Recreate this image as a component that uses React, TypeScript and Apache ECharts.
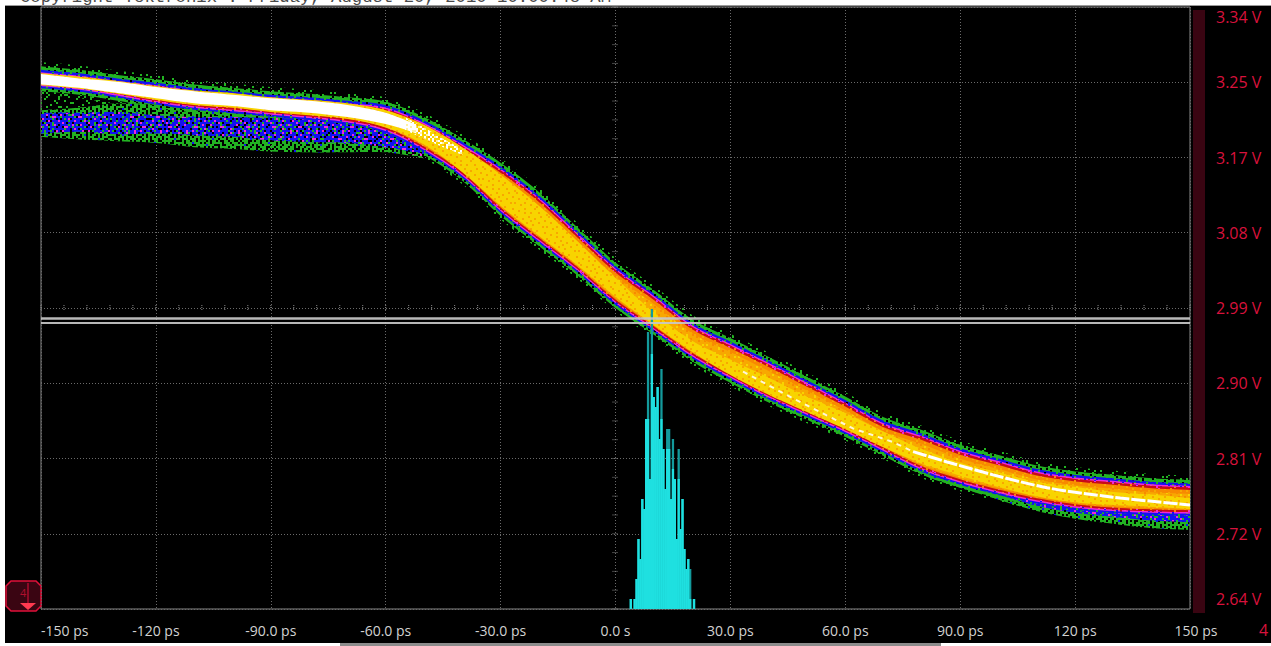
import React, { useEffect, useRef } from "react";
import * as echarts from "echarts";

// Time axis (ps) and voltage axis
const xTickValues = [-150, -120, -90, -60, -30, 0, 30, 60, 90, 120, 150];
const xTickLabels = ["-150 ps", "-120 ps", "-90.0 ps", "-60.0 ps", "-30.0 ps", "0.0 s", "30.0 ps", "60.0 ps", "90.0 ps", "120 ps", "150 ps"];
const yTickValues = [2.64, 2.7275, 2.815, 2.9025, 2.99, 3.0775, 3.165, 3.2525, 3.34];
const yTickLabels = ["2.64 V", "2.72 V", "2.81 V", "2.90 V", "2.99 V", "3.08 V", "3.17 V", "3.25 V", "3.34 V"];

// Waveform envelope, sampled every 10 ps from -150 to 150
const ps = [-150, -140, -130, -120, -110, -100, -90, -80, -70, -60, -50, -40, -30, -20, -10, 0, 10, 20, 30, 40, 50, 60, 70, 80, 90, 100, 110, 120, 130, 140, 150];
const mainTop = [3.271, 3.267, 3.261, 3.256, 3.25, 3.246, 3.242, 3.239, 3.235, 3.23, 3.212, 3.187, 3.159, 3.125, 3.084, 3.043, 3.011, 2.977, 2.955, 2.933, 2.91, 2.887, 2.863, 2.848, 2.831, 2.819, 2.807, 2.8, 2.796, 2.792, 2.79];
const mainBottom = [3.242, 3.238, 3.231, 3.223, 3.217, 3.213, 3.209, 3.205, 3.2, 3.19, 3.168, 3.138, 3.097, 3.062, 3.028, 2.99, 2.959, 2.928, 2.903, 2.88, 2.86, 2.84, 2.818, 2.796, 2.781, 2.769, 2.759, 2.752, 2.748, 2.746, 2.745];
const yellowTop = [3.263, 3.259, 3.254, 3.248, 3.243, 3.24, 3.235, 3.232, 3.228, 3.22, 3.203, 3.177, 3.145, 3.109, 3.068, 3.025, 2.985, 2.952, 2.93, 2.909, 2.887, 2.868, 2.846, 2.826, 2.81, 2.799, 2.788, 2.782, 2.776, 2.773, 2.769];
const yellowBottom = [3.249, 3.245, 3.239, 3.232, 3.226, 3.223, 3.218, 3.214, 3.21, 3.2, 3.18, 3.148, 3.109, 3.074, 3.04, 3.003, 2.97, 2.939, 2.912, 2.889, 2.869, 2.849, 2.828, 2.809, 2.795, 2.782, 2.771, 2.764, 2.761, 2.759, 2.756];

// Brightest trace on the left, then its speckled tail
const whitePs = [-150, -140, -130, -120, -110, -100, -90, -80, -70, -60, -52];
const whiteTop = [3.262, 3.257, 3.253, 3.247, 3.242, 3.238, 3.234, 3.231, 3.226, 3.217, 3.203];
const whiteBottom = [3.25, 3.246, 3.24, 3.234, 3.228, 3.225, 3.22, 3.217, 3.212, 3.204, 3.193];
const tailPs = [-55, -50, -45, -40];
const tailTop = [3.212, 3.2, 3.187, 3.175];
const tailBottom = [3.197, 3.187, 3.177, 3.168];
// Thin bright trace on the right
const traceDashPs = [33.3, 46.3, 62, 72.5, 77.7];
const traceDashV = [2.916, 2.885, 2.85, 2.834, 2.823];
const traceSolidPs = [77.7, 86.6, 98.6, 112.7, 129.9, 150];
const traceSolidV = [2.823, 2.811, 2.796, 2.781, 2.77, 2.761];

// Second, lower population on the left
const ghostPs = [-150, -140, -130, -120, -110, -100, -90, -80, -70, -60, -50];
const ghostSparseTop = [3.242, 3.238, 3.231, 3.223, 3.217, 3.213, 3.209, 3.205, 3.2, 3.19, 3.168];
const ghostGreenTop = [3.22, 3.223, 3.228, 3.226, 3.22, 3.217, 3.212, 3.209, 3.204, 3.193, 3.174];
const ghostGreenBottom = [3.189, 3.186, 3.184, 3.182, 3.177, 3.175, 3.172, 3.171, 3.171, 3.171, 3.164];
const ghostBlueTop = [3.217, 3.217, 3.218, 3.214, 3.212, 3.212, 3.211, 3.21, 3.209, 3.205, 3.178];
const ghostBlueBottom = [3.193, 3.195, 3.192, 3.193, 3.191, 3.189, 3.185, 3.183, 3.182, 3.177, 3.169];
const ghostMagentaPs = [-90, -80, -70, -60, -50];
const ghostMagentaTop = [3.209, 3.205, 3.2, 3.19, 3.168];
const ghostMagentaBottom = [3.199, 3.197, 3.192, 3.182, 3.162];

// Lower skirt on the right
const skirtPs = [80, 90, 100, 110, 120, 130, 140, 150];
const skirtTop = [2.809, 2.795, 2.782, 2.771, 2.764, 2.761, 2.759, 2.756];
const skirtGreenBottom = [2.796, 2.781, 2.767, 2.754, 2.745, 2.739, 2.734, 2.732];
const skirtBlueBottom = [2.799, 2.785, 2.773, 2.76, 2.752, 2.747, 2.743, 2.741];

// Crossing histogram
const histPs = [4, 4.5, 5, 5.5, 6, 6.5, 7, 7.5, 8, 8.5, 9, 9.5, 10, 10.5, 11, 11.5, 12, 12.5, 13, 13.5, 14, 14.5, 15, 15.5, 16, 16.5, 17, 17.5, 18, 18.5, 19, 19.5, 20, 20.5];
const histPeakHits = [10, 0, 10, 30, 70, 50, 110, 100, 190, 277, 130, 300, 212, 202, 222, 170, 240, 160, 120, 180, 180, 110, 170, 130, 70, 160, 80, 110, 60, 40, 50, 40, 0, 10];
const histBodyHits = [10, 0, 10, 30, 70, 50, 110, 100, 190, 190, 130, 255, 212, 202, 222, 170, 190, 160, 120, 160, 160, 110, 140, 130, 70, 130, 80, 110, 60, 40, 50, 10, 0, 10];

// Horizontal cursors
const cursorLevels = [2.9777, 2.9725];

// Persistence textures
const palette: Record<string, string> = {
  g: "#22b322", b: "#1212f0", m: "#f028d8", r: "#c80a18", o: "#f88a00", a: "#f8a800", y: "#f8d400", w: "#ffffff", k: "#000000", t: "#fff2a0",
};
const tileHalo = [
  "..g.......g...g.",
  "......g..g......",
  ".g.........g...g",
  ".g....g.........",
  ".......g.....g..",
  "g...g.......g...",
  "g.........g.....",
  "...g..g.......g.",
  "..g.........g...",
  "........g..g....",
  ".....g.g........",
  ".g............g.",
];
const tileGreenEdge = [
  "gg.ggg.gggg.gg.g",
  "ggggg.ggg.ggggg.",
  ".gg.ggggggg.gggg",
  "gggg.gg.ggggg.gg",
  "g.gggggg.gg.gggg",
  "ggg.gg.ggggggg.g",
  ".ggggggg.gg.gggg",
  "gg.ggg.gggggg.gg",
  "gggg.ggggg.ggggg",
  "g.ggggg.ggg.g.gg",
  "ggg.g.gggggggg.g",
  ".ggggggg.gg.gggg",
];
const tileSparse = [
  "..g....g.....g..",
  "......g......g..",
  "g..........g....",
  "...gg.......g...",
  ".........g......",
  ".g.....g.....gg.",
  "....g...........",
  "..........g..g..",
  ".gg.....g.......",
  "......g.....g...",
  "...g.......g...g",
  "g.......g.......",
];
const tileMottledGreen = [
  "gg.gg.ggb.gg.g.g..g",
  ".gggg.g.gggg.ggg.gg",
  "gg.gbgg.gg.ggg.gggg",
  "g.ggg.gggg.g.ggg.g.",
  "ggg.g.g.gggbgg.ggg.",
  ".gg.gggggg.gg.gg.gg",
  "gbggg.g.gg.ggggg.gg",
  "gg.gggggbggg.g.gg.g",
  ".ggg.gg.ggg.gg.gggg",
  "gg.gg.gggg.ggg.g.gg",
  "g.gggg.g.gggg.bggg.",
  "ggg.gggbgg.gg.gg.gg",
  ".gg.gg.gggggggg.ggg",
];
const tileMottledBlue = [
  "bb.bbbbb.bbbbgbb.bbb.",
  "b.bbb.bbbbgbbbb.bbbbb",
  "bbbbbgbb.bbbbgbbb.b.b",
  "gbb.bbb.bbbb.bbgbbbbb",
  "bbbbb.bbbbbgbbbb.bb.b",
  "b.bbgbbbb.bbbb.bbbbbg",
  "bgbbbb.bbbg.bbbbb.bbb",
  "bbb.bbbb.bbbbbgbb.bbb",
  ".bbbbgbbb.bbbbb.bbb.b",
  "bb.bbbbb.bbbb.gbbbbbb",
  "bbbb.bgbb.bbbbbb.bb.b",
  "gbbbb.bbbbb.bgbbbbbbb",
];
const tileMagentaSpecks = [
  "..m........m.",
  ".......m.....",
  "....m.....m..",
  "mm...........",
  "........m....",
  "...m.......m.",
  ".....m.......",
  ".m........m..",
  "......mm.....",
  "...........m.",
  "..m..m.......",
];
const tileBlackSpecks = [
  ".k.......k.....",
  ".....k.......k.",
  "..k.......k....",
  "........k......",
  "k....k.......k.",
  "..........k....",
  "...k..k........",
  ".........k....k",
  ".k...........k.",
  ".....k...k.....",
  "k...........k..",
];
const tileMagentaDense = [
  "mmbmmmmmmbmmmmbm",
  "mmmmbmmmmmmmbmmm",
  "bmmmmmmbmmmmmmmm",
  "mmmmmbmmmmbmmmbm",
  "mbmmmmmmbmmmmmmm",
  "mmmmbmmmmmmmbmmb",
];
const tileBlueEdge = [
  "bbbgbbbbbbgbbbb.",
  "bb.bbbbgbbbbbgbb",
  "gbbbbbbbbb.bbbbb",
  "bbbbgbb.bbbbbgbb",
  "b.bbbbbbbgbbbbbb",
  "bbbgbbbbbbbbb.bb",
];
const tileMagentaEdge = [
  "mmmbmmmmmmbmmmmm",
  "mbmmmmrmmmmmmbmm",
  "mmmmmmmmbmmmrmmm",
  "rmmmbmmmmmmmmmbm",
];
const tileRedEdge = [
  "rrrmrrrrrorrrrrr",
  "rorrrrrrrrrrmrrr",
  "rrrrrorrmrrrrrro",
  "rrmrrrrrrrrorrrr",
];
const tileOrange = [
  "oooaoooooaoooooa",
  "ooooooaoooooaooo",
  "aoooooooaooooooo",
  "oooaooooooooaooo",
  "ooooooaoooaooooo",
  "oaooooooooooooao",
  "ooooaoooaooooooo",
  "ooooooooooooaooo",
  "aoooooaooooaoooo",
  "oooaoooooooooooa",
  "ooooooaooaoooooo",
  "oaoooooooooaoooo",
];
const tileAmber = [
  "aaaoaaayaaaaoaaa",
  "aayaaaaaaoaaaaya",
  "oaaaayaaaaaaaoaa",
  "aaaaaaaoaayaaaaa",
  "ayaaoaaaaaaaoaay",
  "aaaaaaayaaoaaaaa",
];
const tileYellow = [
  "yyayyyyyayyyyyay",
  "yyyyyayyyyyayyyy",
  "ayyyyyyyyayyyyyy",
  "yyyayyyayyyyyayy",
  "yyyyyyyyyyayyyyy",
  "yayyyyayyyyyyyya",
  "yyyyayyyyayyyyyy",
  "yyyyyyyyyyyyayyy",
  "ayyyyyayyyyayyyy",
  "yyyayyyyyyyyyyyy",
  "yyyyyyayyayyyayy",
  "yayyyyyyyyyyyyyy",
];
const tileWhiteTail = [
  "w.tw..wt.",
  ".w..wt..w",
  "tw.w...wt",
  "..wt.w.w.",
  "w..w..tw.",
  ".tw..w..w",
  "w...wt.w.",
];

const makeTile = (rows: string[], cell = 2) => {
  const canvas = document.createElement("canvas");
  canvas.width = rows[0].length * cell;
  canvas.height = rows.length * cell;
  const ctx = canvas.getContext("2d")!;
  rows.forEach((row, j) => {
    row.split("").forEach((ch, i) => {
      if (palette[ch]) {
        ctx.fillStyle = palette[ch];
        ctx.fillRect(i * cell, j * cell, cell, cell);
      }
    });
  });
  return { image: canvas, repeat: "repeat" };
};

// Draws a curve through the library-computed pixel points of an envelope
const curve = (pts: number[][]) => {
  const out: number[][] = [];
  for (let i = 0; i < pts.length - 1; i++) {
    const p0 = pts[Math.max(i - 1, 0)];
    const p1 = pts[i];
    const p2 = pts[i + 1];
    const p3 = pts[Math.min(i + 2, pts.length - 1)];
    for (let s = 0; s < 6; s++) {
      const t = s / 6;
      const t2 = t * t;
      const t3 = t2 * t;
      out.push([0, 1].map((k) => 0.5 * (2 * p1[k] + (p2[k] - p0[k]) * t + (2 * p0[k] - 5 * p1[k] + 4 * p2[k] - p3[k]) * t2 + (3 * p1[k] - p0[k] - 3 * p2[k] + p3[k]) * t3)));
    }
  }
  out.push(pts[pts.length - 1]);
  return out;
};

const band = (name: string, xs: number[], top: number[], bottom: number[], fill: any, insetTop = 0, insetBottom = 0) => ({
  type: "custom",
  name,
  silent: true,
  clip: true,
  data: xs.map((x, i) => [x, top[i], bottom[i]]),
  encode: { x: 0, y: [1, 2] },
  renderItem: (params: any, api: any) => {
    if (params.dataIndex !== 0) return null;
    const upper = xs.map((x, i) => {
      const p = api.coord([x, top[i]]);
      return [p[0], p[1] + insetTop];
    });
    const lower = xs.map((x, i) => {
      const p = api.coord([x, bottom[i]]);
      return [p[0], p[1] - insetBottom];
    });
    return { type: "polygon", shape: { points: curve(upper).concat(curve(lower).reverse()) }, style: { fill, stroke: null } };
  },
});

const centerScale = () => {
  const xTicks: number[] = [];
  for (let v = -150; v <= 150; v += 6) xTicks.push(v);
  const yTicks: number[] = [];
  for (let k = 0; k <= 32; k++) yTicks.push(2.64 + k * 0.021875);
  return {
    type: "custom",
    name: "center scale",
    silent: true,
    data: [[0, 2.99]],
    encode: { x: 0, y: 1 },
    renderItem: (_p: any, api: any) => {
      const style = { stroke: "#8a8a8a", lineWidth: 1, lineDash: [1, 1] };
      const children: any[] = [];
      xTicks.forEach((v) => {
        const p = api.coord([v, 2.99]);
        children.push({ type: "line", shape: { x1: p[0], y1: p[1] - 3, x2: p[0], y2: p[1] + 3 }, style });
      });
      yTicks.forEach((v) => {
        const p = api.coord([0, v]);
        children.push({ type: "line", shape: { x1: p[0] - 3, y1: p[1], x2: p[0] + 3, y2: p[1] }, style });
      });
      return { type: "group", children };
    },
  };
};

export default function App() {
  const ref = useRef<HTMLDivElement>(null);
  useEffect(() => {
    document.body.style.margin = "0";
    const chart = echarts.init(ref.current!, null, { renderer: "svg" });
    const labelFont = "'Open Sans', 'Noto Sans', sans-serif";
    chart.setOption({
      animation: false,
      backgroundColor: "#ffffff",
      grid: { left: 41, right: 81, top: 7, bottom: 37, show: true, backgroundColor: "#000000", borderColor: "#8a8a8a", borderWidth: 1 },
      xAxis: {
        type: "value",
        min: -150,
        max: 150,
        interval: 30,
        axisLine: { show: false },
        axisTick: { show: false },
        splitLine: { show: true, lineStyle: { color: "#6a6a6a", type: [1, 2], width: 1 } },
        axisLabel: {
          color: "#d2d2d2",
          fontFamily: labelFont,
          fontSize: 14,
          margin: 14,
          alignMinLabel: "left",
          formatter: (v: number) => {
            const t = xTickLabels[xTickValues.indexOf(v)];
            return v === 150 ? `{end|${t}}` : t;
          },
          rich: { end: { padding: [0, 0, 0, 12], color: "#d2d2d2", fontFamily: labelFont, fontSize: 14 } },
        },
      },
      yAxis: [
        {
          type: "value",
          position: "right",
          min: 2.64,
          max: 3.34,
          axisLine: { show: false },
          axisTick: { show: false, customValues: yTickValues },
          splitLine: { show: true, lineStyle: { color: "#6a6a6a", type: [1, 2], width: 1 } },
          axisLabel: {
            customValues: yTickValues,
            color: "#d8123c",
            fontFamily: labelFont,
            fontSize: 16,
            lineHeight: 20,
            margin: 26,
            verticalAlignMaxLabel: "top",
            verticalAlignMinLabel: "bottom",
            formatter: (v: number) => yTickLabels[yTickValues.indexOf(v)],
          },
        },
        { type: "value", show: false, min: 0, max: 602 },
      ],
      graphic: [
        { type: "rect", z: -10, silent: true, shape: { x: 5, y: 6, width: 1266, height: 637 }, style: { fill: "#000000" } },
        { type: "line", z: -9, silent: true, shape: { x1: 5, y1: 5.5, x2: 1271, y2: 5.5 }, style: { stroke: "#9a9a9a", lineWidth: 1 } },
        { type: "rect", silent: true, shape: { x: 340, y: 643, width: 601, height: 3 }, style: { fill: "#8c8c8c" } },
        { type: "rect", silent: true, shape: { x: 1193, y: 10, width: 12, height: 603 }, style: { fill: "#3a0512" } },
        {
          type: "text", silent: true, x: 20, y: -11,
          style: { text: "Copyright Tektronix : Friday, August 20, 2010 10:00:48 AM", fill: "#4a4a4a", font: "17.3px 'Liberation Mono', monospace" },
        },
        {
          type: "text", silent: true, x: 1259, y: 622,
          style: { text: "4", fill: "#d8123c", font: "16px 'Open Sans', sans-serif" },
        },
        {
          type: "polygon", silent: true,
          shape: { points: [[11, 581], [36, 581], [41, 586], [41, 606], [36, 611], [11, 611], [6, 606], [6, 586]] },
          style: { fill: "#3a0512", stroke: "#e0103a", lineWidth: 1.5 },
        },
        { type: "line", silent: true, shape: { x1: 28, y1: 583, x2: 28, y2: 603 }, style: { stroke: "#e0103a", lineWidth: 1 } },
        { type: "polygon", silent: true, shape: { points: [[20, 603], [36, 603], [28, 610]] }, style: { fill: "#ff3a50" } },
        { type: "text", silent: true, x: 20, y: 587, style: { text: "4", fill: "#b0102e", font: "11px 'Open Sans', sans-serif" } },
      ],
      series: [
        centerScale(),
        band("halo", ps, mainTop.map((v) => v + 0.005), mainBottom.map((v) => v - 0.004), makeTile(tileHalo)),
        band("green", ps, mainTop, mainBottom, makeTile(tileGreenEdge)),
        band("ghost sparse", ghostPs, ghostSparseTop, ghostGreenTop, makeTile(tileSparse)),
        band("ghost green", ghostPs, ghostGreenTop, ghostGreenBottom, makeTile(tileMottledGreen)),
        band("ghost blue", ghostPs, ghostBlueTop, ghostBlueBottom, makeTile(tileMottledBlue)),
        band("ghost magenta specks", ghostPs, ghostBlueTop, ghostBlueBottom, makeTile(tileMagentaSpecks)),
        band("ghost black specks", ghostPs, ghostGreenTop, ghostGreenBottom, makeTile(tileBlackSpecks)),
        band("ghost magenta", ghostMagentaPs, ghostMagentaTop, ghostMagentaBottom, makeTile(tileMagentaSpecks)),
        band("skirt green", skirtPs, skirtTop, skirtGreenBottom, makeTile(tileMottledGreen)),
        band("skirt blue", skirtPs, skirtTop, skirtBlueBottom, makeTile(tileMottledBlue)),
        band("skirt magenta specks", skirtPs, skirtTop, skirtBlueBottom, makeTile(tileMagentaSpecks)),
        band("blue", ps, mainTop, mainBottom, makeTile(tileBlueEdge), 3.5, 3),
        band("magenta", ps, mainTop, mainBottom, makeTile(tileMagentaEdge), 6, 5),
        band("red", ps, mainTop, mainBottom, makeTile(tileRedEdge), 7.5, 6.5),
        band("orange", ps, mainTop, mainBottom, makeTile(tileOrange), 10, 8.5),
        band("amber", ps, mainTop, mainBottom, makeTile(tileAmber), 14, 10),
        band("yellow", ps, yellowTop, yellowBottom, makeTile(tileYellow)),
        band("white", whitePs, whiteTop, whiteBottom, "#ffffff"),
        band("white tail", tailPs, tailTop, tailBottom, makeTile(tileWhiteTail)),
        {
          type: "line", name: "trace dashed", silent: true, showSymbol: false, symbol: "none",
          data: traceDashPs.map((x, i) => [x, traceDashV[i]]),
          lineStyle: { color: "#fff6d8", width: 2, type: [5, 5] },
        },
        {
          type: "line", name: "trace solid", silent: true, showSymbol: false, symbol: "none", smooth: 0.3,
          data: traceSolidPs.map((x, i) => [x, traceSolidV[i]]),
          lineStyle: { color: "#ffffff", width: 3, type: [14, 2] },
        },
        ...cursorLevels.map((v, i) => ({
          type: "line", name: `cursor ${i + 1}`, silent: true, showSymbol: false, symbol: "none",
          data: [[-150, v], [150, v]],
          lineStyle: { color: "#c8c8c8", width: i === 0 ? 2.5 : 2, opacity: 0.92 },
        })),
        {
          type: "bar", name: "hits peak", yAxisIndex: 1, silent: true, barWidth: 2.3, barGap: "-100%",
          data: histPs.map((x, i) => [x, histPeakHits[i]]),
          itemStyle: { color: "#139a9c" },
        },
        {
          type: "bar", name: "hits body", yAxisIndex: 1, silent: true, barWidth: 2.3, barGap: "-100%",
          data: histPs.map((x, i) => [x, histBodyHits[i]]),
          itemStyle: { color: "#1fe0e0" },
        },
      ],
    });
    return () => chart.dispose();
  }, []);
  return <div ref={ref} style={{ position: "fixed", left: 0, top: 0, width: 1271, height: 646 }} />;
}
